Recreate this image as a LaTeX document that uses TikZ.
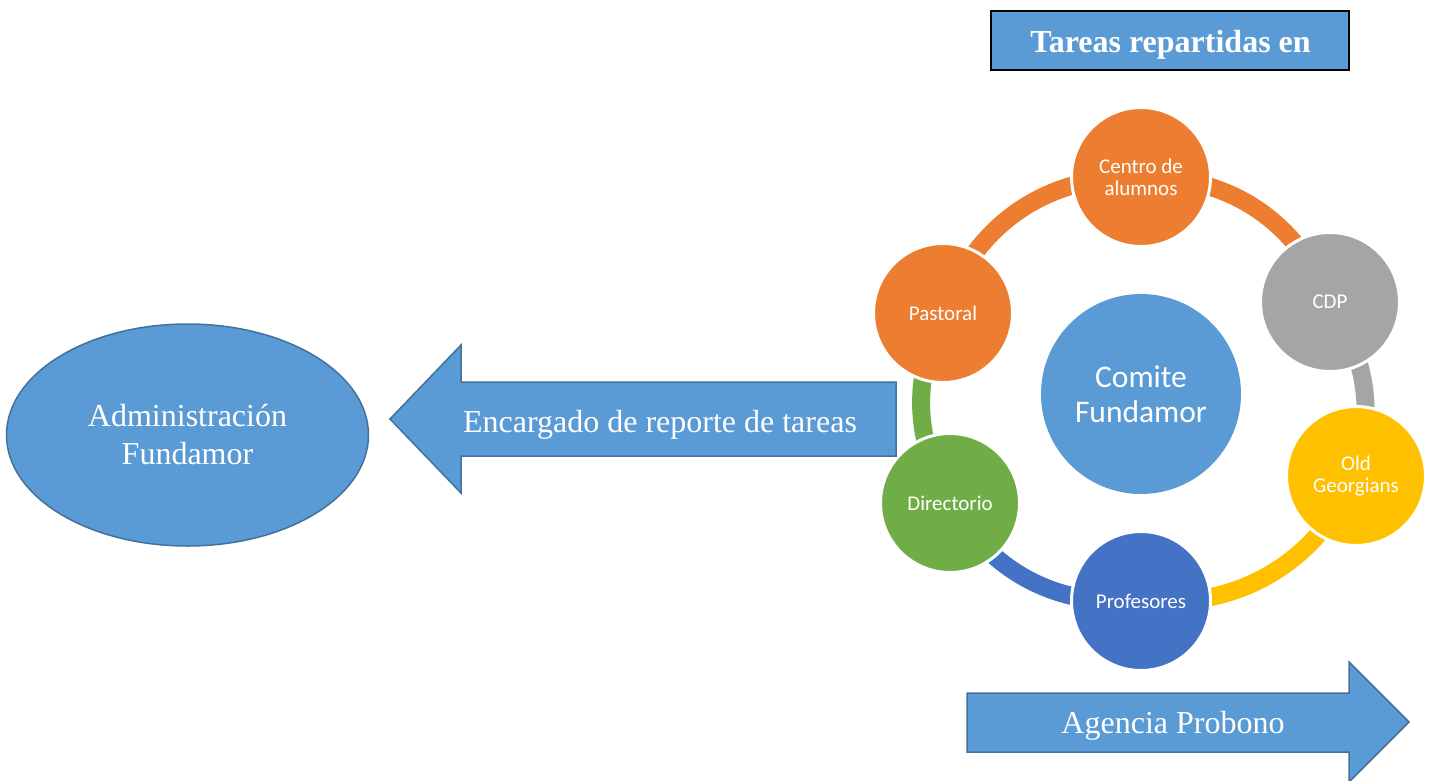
\documentclass[tikz,border=0pt]{standalone}
\usepackage{fontspec}
\setmainfont{Liberation Serif}
\newfontfamily\calibri{Carlito}
\usetikzlibrary{shapes.geometric}
\colorlet{bordercolor}{white}
\definecolor{fillblue}{RGB}{91, 155, 213}
\definecolor{lineblue}{RGB}{65, 113, 156}
\definecolor{orangecolor}{RGB}{237, 125, 49}
\definecolor{greycolor}{RGB}{165, 165, 165}
\definecolor{goldcolor}{RGB}{255, 192, 0}
\definecolor{darkbluecolor}{RGB}{68, 114, 196}
\definecolor{greencolor}{RGB}{112, 173, 71}
\pgfdeclarelayer{background}
\pgfsetlayers{background,main}

\begin{document}
\begin{tikzpicture}[x=1pt, y=-1pt,
        member/.style={circle, draw=white, line width=3pt, minimum size=139pt, inner sep=0pt,
                text=white, align=center, font=\fontsize{21}{22}\selectfont\calibri},
        ring/.style={line width=18pt},
        bluebox/.style={fill=fillblue, draw=lineblue, line width=1.5pt},
        whitetext/.style={text=white, anchor=base, font=\fontsize{32}{32}\selectfont}]
        \useasboundingbox (0, 0) rectangle (1429, 780);

        % Title
        \node[draw=black, fill=fillblue, line width=1.5pt, minimum width=358pt, minimum height=59pt] (titulo) at (1170, 40.5) {};
        \node[whitetext, font=\fontsize{32}{32}\selectfont\bfseries] (titulotexto) at (1170.5, 52) {Tareas repartidas en};

        % Cycle {{{
        \node[circle, fill=fillblue, minimum size=200pt, inner sep=0pt, text=white, align=center,
                font=\fontsize{31.5}{35}\selectfont\calibri] (comite) at (1141, 394) {Comite\\Fundamor};
        \node[member, fill=orangecolor] (centro) at (1141, 177) {Centro de\\alumnos};
        \node[member, fill=greycolor] (cdp) at (1330, 302) {CDP};
        \node[member, fill=goldcolor] (georgians) at (1356, 476) {Old\\Georgians};
        \node[member, fill=darkbluecolor] (profesores) at (1141, 601) {Profesores};
        \node[member, fill=greencolor] (directorio) at (950, 503) {Directorio};
        \node[member, fill=orangecolor] (pastoral) at (943, 313) {Pastoral};
        \begin{pgfonlayer}{background}
                \draw[ring, orangecolor] (centro.center) to[bend left=34] (cdp.center);
                \draw[ring, greycolor] (cdp.center) to[bend left=24] (georgians.center);
                \draw[ring, goldcolor] (georgians.center) to[bend left=35] (profesores.center);
                \draw[ring, darkbluecolor] (profesores.center) to[bend left=31] (directorio.center);
                \draw[ring, greencolor] (directorio.center) to[bend left=27] (pastoral.center);
                \draw[ring, orangecolor] (pastoral.center) to[bend left=36] (centro.center);
        \end{pgfonlayer}
        % }}}

        % Arrows
        \draw[bluebox] (896, 382) -- (461, 382) -- (461, 345) -- (390, 419) -- (461, 493) -- (461, 456) -- (896, 456) -- cycle;
        \node[whitetext] (encargado) at (660, 432) {Encargado de reporte de tareas};
        \draw[bluebox] (967, 693) -- (1349, 693) -- (1349, 662) -- (1409, 722) -- (1349, 782) -- (1349, 752) -- (967, 752) -- cycle;
        \node[whitetext] (agencia) at (1173, 733) {Agencia Probono};

        \node[ellipse, bluebox, minimum width=362pt, minimum height=222pt, inner sep=0pt, text=white, align=center,
                font=\fontsize{32}{38}\selectfont] (admin) at (187.5, 435) {Administración\\Fundamor};
\end{tikzpicture}
\end{document}
